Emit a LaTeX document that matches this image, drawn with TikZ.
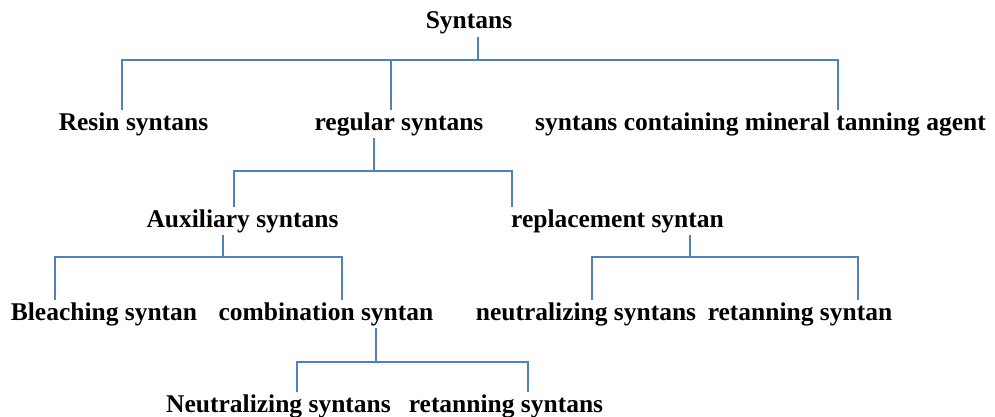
\documentclass[tikz,border=0pt]{standalone}
\usepackage{fontspec}
\setmainfont{Liberation Serif}
\definecolor{linkblue}{RGB}{79,129,189}
\tikzset{
  lbl/.style={anchor=base, inner xsep=0pt, inner ysep=2pt,
    font=\bfseries\fontsize{25.5}{30}\selectfont},
  link/.style={draw=linkblue, line width=1.6pt}
}
\begin{document}
\begin{tikzpicture}[x=1pt,y=-1pt]
    \useasboundingbox (0,0) rectangle (995,417);
    % labels
    \path (469,29) node[lbl] (syn) {Syntans};
    \path (133.5,130) node[lbl] (resin) {Resin syntans};
    \path (399,130) node[lbl] (reg) {regular syntans};
    \path (760.5,130) node[lbl] (mineral) {syntans containing mineral tanning agent};
    \path (242.5,227) node[lbl] (aux) {Auxiliary syntans};
    \path (617.5,227) node[lbl] (repl) {replacement syntan};
    \path (104,320) node[lbl] (bleach) {Bleaching syntan};
    \path (326,320) node[lbl] (comb) {combination syntan};
    \path (586,320) node[lbl] (neut) {neutralizing syntans};
    \path (800,320) node[lbl] (retan) {retanning syntan};
    \path (278.5,412) node[lbl] (neutb) {Neutralizing syntans};
    \path (506,412) node[lbl] (retanb) {retanning syntans};
    % branch points
    \coordinate (b1) at (478,60);
    \coordinate (b2) at (374,171);
    \coordinate (b3) at (223,257);
    \coordinate (b4) at (690,257);
    \coordinate (b5) at (376,362);
    % connectors
    \draw[link] (syn.south -| b1) -- (b1);
    \draw[link] (b1) -| ([xshift=-11.5pt]resin.north);
    \draw[link] (b1) -| ([xshift=77.5pt]mineral.north);
    \draw[link] ([xshift=-8pt]reg.north) |- (b1);
    \draw[link] (reg.south -| b2) -- (b2);
    \draw[link] (b2) -| ([xshift=-8.5pt]aux.north);
    \draw[link] (b2) -| ([xshift=-105.5pt]repl.north);
    \draw[link] (aux.south -| b3) -- (b3);
    \draw[link] (b3) -| ([xshift=-49pt]bleach.north);
    \draw[link] (b3) -| ([xshift=16pt]comb.north);
    \draw[link] (repl.south -| b4) -- (b4);
    \draw[link] (b4) -| ([xshift=6pt]neut.north);
    \draw[link] (b4) -| ([xshift=58pt]retan.north);
    \draw[link] (comb.south -| b5) -- (b5);
    \draw[link] (b5) -| ([xshift=18.5pt]neutb.north);
    \draw[link] (b5) -| ([xshift=22pt]retanb.north);
\end{tikzpicture}
\end{document}
